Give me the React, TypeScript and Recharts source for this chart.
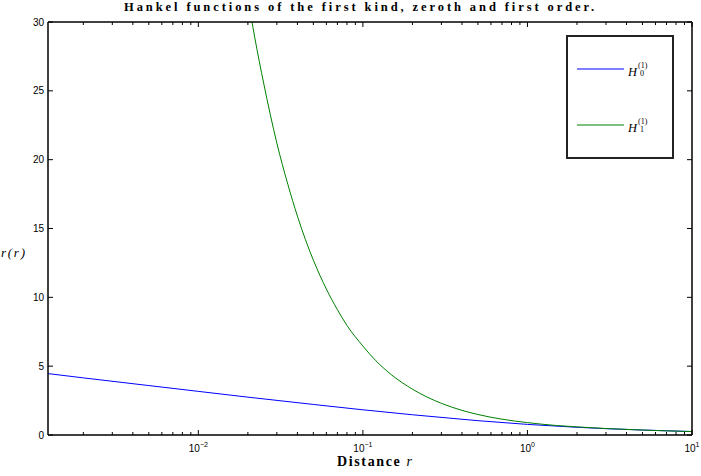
import { LineChart, Line, XAxis, YAxis } from "recharts";

// distance r (log axis) and |H| values
const h0Radius = [0.00122, 0.002, 0.005, 0.01, 0.02, 0.05, 0.1, 0.2, 0.5, 1, 2, 3, 5, 10];
const h0Value = [4.46, 4.15, 3.59, 3.17, 2.75, 2.22, 1.83, 1.47, 1.04, 0.77, 0.56, 0.46, 0.36, 0.25];

const h1Radius = [0.018, 0.02, 0.022, 0.025, 0.03, 0.035, 0.04, 0.05, 0.06, 0.07, 0.08, 0.1, 0.12, 0.15, 0.2, 0.3, 0.4, 0.5, 0.7, 1, 1.5, 2, 3, 5, 7, 10];
const h1Value = [35.4, 31.8, 28.9, 25.5, 21.2, 18.2, 15.9, 12.7, 10.6, 9.1, 7.96, 6.46, 5.39, 4.35, 3.33, 2.3, 1.79, 1.49, 1.15, 0.9, 0.69, 0.59, 0.47, 0.36, 0.3, 0.25];

const majorTicks = [0.01, 0.1, 1, 10];
const minorTicks = [
  0.002, 0.003, 0.004, 0.005, 0.006, 0.007, 0.008, 0.009,
  0.02, 0.03, 0.04, 0.05, 0.06, 0.07, 0.08, 0.09,
  0.2, 0.3, 0.4, 0.5, 0.6, 0.7, 0.8, 0.9,
  2, 3, 4, 5, 6, 7, 8, 9,
];
const xTicks = [...minorTicks, ...majorTicks].sort((a, b) => a - b);
const yTicks = [0, 5, 10, 15, 20, 25, 30];

const h0Data = h0Radius.map((r, i) => ({ r, v: h0Value[i] }));
const h1Data = h1Radius.map((r, i) => ({ r, v: h1Value[i] }));

const xDomain = [0.00122, 10];
const axisLine = { stroke: "#000", strokeWidth: 1.5 };
const sans = "Liberation Sans, Arial, sans-serif";
const serif = "Liberation Serif, DejaVu Serif, serif";

const isMajor = (v: number) => majorTicks.includes(v);

function BottomTick({ x, y, payload }: any) {
  const v = payload.value;
  const len = isMajor(v) ? 5 : 3;
  const exp = Math.round(Math.log10(v));
  return (
    <g>
      <line x1={x} x2={x} y1={y} y2={y - len} stroke="#000" />
      {isMajor(v) && (
        <text x={x} y={y} textAnchor="middle" fontFamily={sans} fontSize={10} fill="#000">
          <tspan dy={17}>10</tspan>
          <tspan dy={-5} fontSize={7}>{exp < 0 ? "\u2212" + -exp : exp}</tspan>
        </text>
      )}
    </g>
  );
}

function TopTick({ x, y, payload }: any) {
  const len = isMajor(payload.value) ? 5 : 3;
  return <line x1={x} x2={x} y1={y} y2={y + len} stroke="#000" />;
}

function LeftTick({ x, y, payload }: any) {
  return (
    <g>
      <line x1={x} x2={x + 5} y1={y} y2={y} stroke="#000" />
      <text x={x - 4} y={y} dy={3.5} textAnchor="end" fontFamily={sans} fontSize={10} fill="#000">
        {payload.value}
      </text>
    </g>
  );
}

function RightTick({ x, y }: any) {
  return <line x1={x} x2={x - 5} y1={y} y2={y} stroke="#000" />;
}

function LegendEntry({ y, color, sub }: { y: number; color: string; sub: string }) {
  return (
    <g>
      <line x1={577} x2={624} y1={y} y2={y} stroke={color} strokeWidth={1} />
      <text x={628} y={y + 7} fontFamily={serif} fontStyle="italic" fontSize={12.5} fill="#000">H</text>
      <text x={638} y={y - 1} fontFamily={serif} fontSize={8} fill="#000">(1)</text>
      <text x={640} y={y + 7} fontFamily={serif} fontSize={8} fill="#000">{sub}</text>
    </g>
  );
}

export default function App() {
  return (
    <div style={{ position: "absolute", left: 0, top: 0, width: 701, height: 476, background: "#fff", overflow: "hidden" }}>
      <LineChart width={701} height={476} margin={{ top: 0, right: 0, bottom: 0, left: 0 }}>
        <XAxis xAxisId="bottom" dataKey="r" type="number" scale="log" domain={xDomain} allowDataOverflow
          ticks={xTicks} interval={0} height={41} tickSize={0} tickMargin={0}
          axisLine={axisLine} tickLine={false} tick={<BottomTick />} />
        <XAxis xAxisId="top" orientation="top" dataKey="r" type="number" scale="log" domain={xDomain} allowDataOverflow
          ticks={xTicks} interval={0} height={22} tickSize={0} tickMargin={0}
          axisLine={axisLine} tickLine={false} tick={<TopTick />} />
        <YAxis yAxisId="left" type="number" domain={[0, 30]} allowDataOverflow ticks={yTicks} interval={0}
          width={48} tickSize={0} tickMargin={0} axisLine={axisLine} tickLine={false} tick={<LeftTick />} />
        <YAxis yAxisId="right" orientation="right" type="number" domain={[0, 30]} allowDataOverflow ticks={yTicks} interval={0}
          width={9} tickSize={0} tickMargin={0} axisLine={axisLine} tickLine={false} tick={<RightTick />} />
        <Line xAxisId="bottom" yAxisId="left" data={h0Data} dataKey="v" type="linear" stroke="#0000ff"
          strokeWidth={1} dot={false} isAnimationActive={false} />
        <Line xAxisId="bottom" yAxisId="left" data={h1Data} dataKey="v" type="monotone" stroke="#008000"
          strokeWidth={1} dot={false} isAnimationActive={false} />
      </LineChart>
      <svg width={701} height={476} style={{ position: "absolute", left: 0, top: 0, pointerEvents: "none" }}>
        <text x={124} y={11} textLength={470} lengthAdjust="spacing" fontFamily={serif} fontWeight="bold" fontSize={12.5} fill="#000">
          Hankel functions of the first kind, zeroth and first order.
        </text>
        <text x={337} y={466} textLength={75} lengthAdjust="spacing" fontFamily={serif} fontSize={14} fill="#000">
          <tspan fontWeight="bold">Distance </tspan>
          <tspan fontStyle="italic">r</tspan>
        </text>
        <text x={1} y={257} textLength={24} lengthAdjust="spacing" fontFamily={serif} fontStyle="italic" fontSize={13} fill="#000">
          r(r)
        </text>
        <rect x={567} y={36} width={106} height={122} fill="#fff" stroke="#222" strokeWidth={2} />
        <LegendEntry y={69} color="#0000ff" sub="0" />
        <LegendEntry y={125} color="#008000" sub="1" />
      </svg>
    </div>
  );
}
